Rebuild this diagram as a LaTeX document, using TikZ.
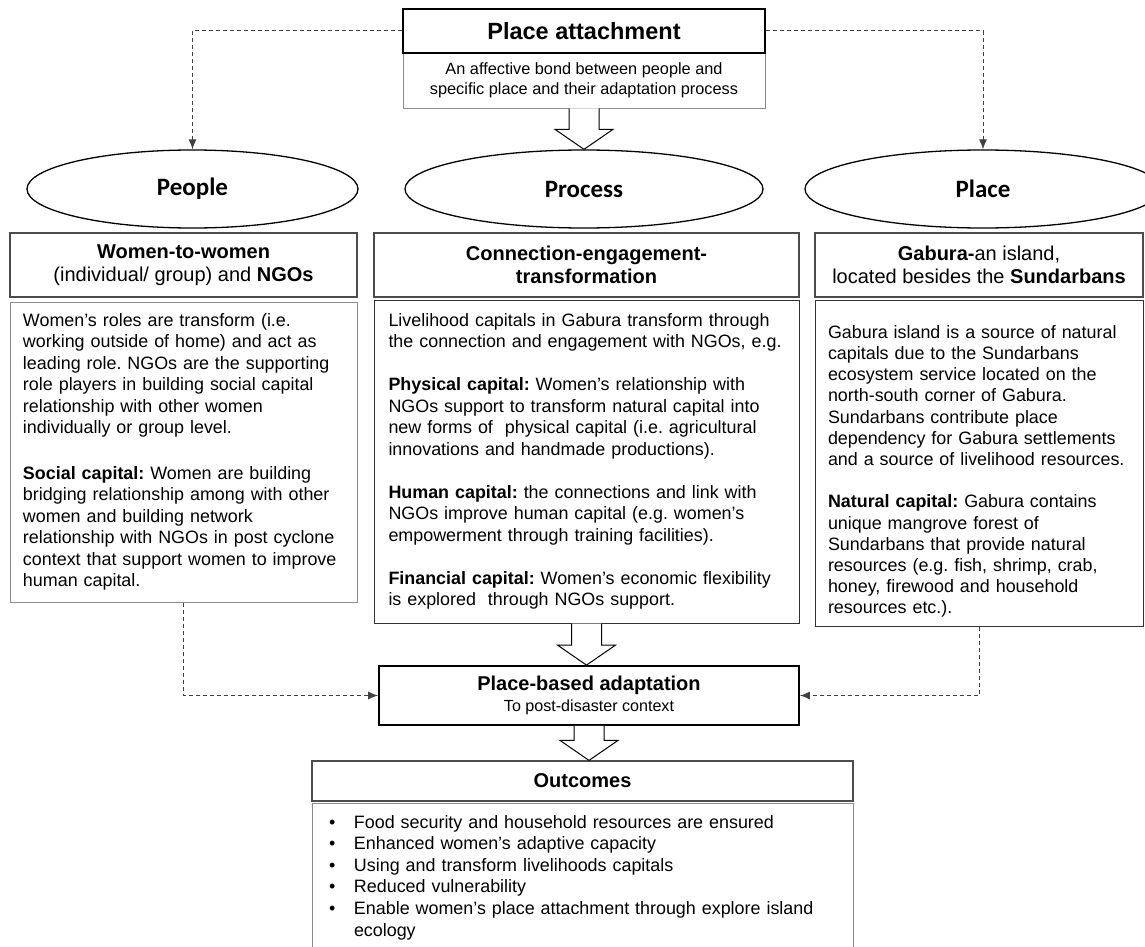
\documentclass[tikz,border=0pt]{standalone}
\usepackage{fontspec}
\setmainfont{Liberation Sans}
\newfontfamily\calibfont{Carlito}
\usetikzlibrary{arrows.meta, calc, shapes.geometric}
\frenchspacing
\hyphenpenalty=10000

% hollow block arrow from one node anchor straight down to the next node
\newcommand{\hollowdown}[2]{%
  \draw[hollow] ($(#1)+(-15,0)$) -- ($(#1 |- #2)+(-15,-20)$) -- ($(#1 |- #2)+(-29,-20)$)
    -- (#1 |- #2) -- ($(#1 |- #2)+(29,-20)$) -- ($(#1 |- #2)+(15,-20)$) -- ($(#1)+(15,0)$);}
\newcommand{\outitem}{\makebox[25pt][l]{\textbullet}}

\begin{document}
\begin{tikzpicture}[x=1pt, y=-1pt, >=Latex,
    every node/.style={inner sep=0pt},
    titlebox/.style={draw, line width=1.6pt, minimum width=362pt, minimum height=44pt, font=\fontsize{23.5}{28}\selectfont\bfseries},
    subbox/.style={draw=black!45, line width=0.8pt, minimum width=362pt, minimum height=55pt, align=center, font=\fontsize{16.3}{19.5}\selectfont},
    oval/.style={ellipse, draw, line width=1.3pt, minimum height=78pt, font=\calibfont\bfseries\fontsize{25}{30}\selectfont},
    headbox/.style={draw=black!70, line width=1.2pt, minimum height=64pt, align=center, font=\fontsize{20}{23.5}\selectfont},
    bodybox/.style={draw=black!80, line width=1pt, align=left, font=\fontsize{17.9}{21.5}\selectfont},
    link/.style={draw=black!75, line width=1pt, dash pattern=on 4pt off 3pt, -{Latex[length=10pt,width=8pt]}},
    hollow/.style={draw, line width=1pt, fill=white}]

    \useasboundingbox (0,0) rectangle (1145,947);

    % Place attachment
    \node[subbox] (sub) at (584,80.5) {An affective bond between people and\\specific place and their adaptation process};
    \node[titlebox] (title) at (584,31) {Place attachment};

    % Three dimensions
    \node[oval, minimum width=331pt] (people) at (192.5,189) {People};
    \node[oval, minimum width=358pt] (process) at (584,189) {Process};
    \node[oval, minimum width=356pt] (place) at (983,189) {Place};

    % Headings
    \node[headbox, minimum width=347pt] (peoplehead) at (183.5,265) {\textbf{Women-to-women}\\(individual/ group) and \textbf{NGOs}};
    \node[headbox, minimum width=425pt, font=\fontsize{20}{23.5}\selectfont\bfseries] (processhead) at (586.5,265) {Connection-engagement-\\transformation};
    \node[headbox, minimum width=328pt] (placehead) at (979,265) {\textbf{Gabura-}an island,\\located besides the \textbf{Sundarbans}};

    % Descriptions
    \node[bodybox, draw=black!45, minimum width=347pt, minimum height=300pt, text width=321pt] (peoplebody) at (183.5,452) {Women’s roles are transform (i.e.\\
working outside of home) and act as\\
leading role. NGOs are the supporting\\
role players in building social capital\\
relationship with other women\\
individually or group level.\\[24pt]
\textbf{Social capital:} Women are building\\
bridging relationship among with other\\
women and building network\\
relationship with NGOs in post cyclone\\
context that support women to improve\\
human capital.};
    \node[bodybox, minimum width=425pt, minimum height=323pt, text width=396pt] (processbody) at (586.5,461.5) {Livelihood capitals in Gabura transform through\\
the connection and engagement with NGOs, e.g.\\[21.5pt]
\textbf{Physical capital:} Women’s relationship with\\
NGOs support to transform natural capital into\\
new forms of\ \ physical capital (i.e. agricultural\\
innovations and handmade productions).\\[21.5pt]
\textbf{Human capital:} the connections and link with\\
NGOs improve human capital (e.g. women’s\\
empowerment through training facilities).\\[21.5pt]
\textbf{Financial capital:} Women’s economic flexibility\\
is explored\ \ through NGOs support.};
    \node[bodybox, minimum width=328pt, minimum height=326pt, text width=302pt, font=\fontsize{17.9}{21.2}\selectfont] (placebody) at (979,463) {\rule{0pt}{30pt}Gabura island is a source of natural\\
capitals due to the Sundarbans\\
ecosystem service located on the\\
north-south corner of Gabura.\\
Sundarbans contribute place\\
dependency for Gabura settlements\\
and a source of livelihood resources.\\[21.2pt]
\textbf{Natural capital:} Gabura contains\\
unique mangrove forest of\\
Sundarbans that provide natural\\
resources (e.g. fish, shrimp, crab,\\
honey, firewood and household\\
resources etc.).};

    % Adaptation and outcomes
    \node[draw, line width=1.8pt, minimum width=420pt, minimum height=59pt, align=center, font=\fontsize{20}{21}\selectfont] (adapt) at (589,695.5) {\textbf{Place-based adaptation}\\{\fontsize{16.1}{19}\selectfont To post-disaster context}};
    \node[headbox, minimum width=541pt, minimum height=40pt, font=\fontsize{20}{23.5}\selectfont\bfseries] (outhead) at (582.5,781) {Outcomes};
    \node[bodybox, draw=black!45, minimum width=541pt, minimum height=149pt, text width=507pt, font=\fontsize{17.9}{21.6}\selectfont] (outbody) at (582.5,877.5) {\outitem Food security and household resources are ensured\\
\outitem Enhanced women’s adaptive capacity\\
\outitem Using and transform livelihoods capitals\\
\outitem Reduced vulnerability\\
\outitem Enable women’s place attachment through explore island\\
\hspace*{25pt}ecology};

    % Dashed links
    \draw[link] (title.west) -| (people.north);
    \draw[link] (title.east) -| (place.north);
    \draw[link] (peoplebody.south) |- (adapt.west);
    \draw[link] (placebody.south) |- (adapt.east);

    % Block arrows
    \hollowdown{sub.south}{process.north}
    \hollowdown{processbody.south}{adapt.north}
    \hollowdown{adapt.south}{outhead.north}
\end{tikzpicture}
\end{document}
